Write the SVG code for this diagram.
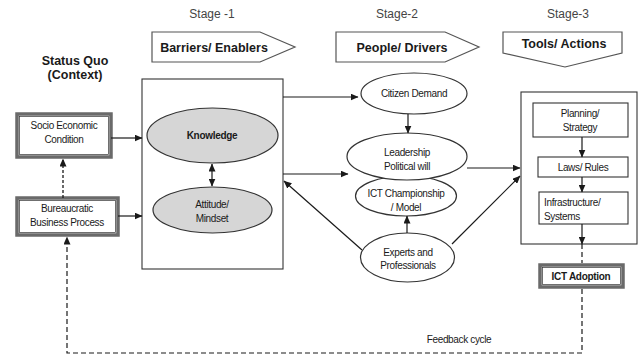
<svg xmlns="http://www.w3.org/2000/svg" width="641" height="358" viewBox="0 0 641 358">
<defs>
<marker id="ah" markerUnits="userSpaceOnUse" markerWidth="8" markerHeight="7" refX="7.5" refY="3.5" orient="auto">
<path d="M0,0 L8,3.5 L0,7 z" fill="#1a1a1a"/>
</marker>
<marker id="ahs" markerUnits="userSpaceOnUse" markerWidth="8" markerHeight="7" refX="0.5" refY="3.5" orient="auto">
<path d="M8,0 L0,3.5 L8,7 z" fill="#1a1a1a"/>
</marker>
</defs>
<style>
text{font-family:"Liberation Sans",Arial,sans-serif;fill:#1a1a1a;text-anchor:middle}
.stage{font-size:12px;fill:#444}
.hdr{font-size:12.5px;font-weight:bold}
.n{font-size:10px;letter-spacing:-0.35px}
.b{font-size:10px;font-weight:bold;letter-spacing:-0.3px}
.shape{fill:#fff;stroke:#555;stroke-width:1.2}
.box{fill:#fff;stroke:#333;stroke-width:1.1}
.dbl{fill:#fff;stroke:#6a6a6a;stroke-width:3.5}
.inner{fill:none;stroke:#333;stroke-width:0.7}
.ell{fill:#fff;stroke:#333;stroke-width:1.2}
.gell{fill:#d6d6d6;stroke:#333;stroke-width:1.2}
.c{fill:none;stroke:#1a1a1a;stroke-width:1.2}
.d{fill:none;stroke:#1a1a1a;stroke-width:1.2;stroke-dasharray:5,3}
.dot{fill:none;stroke:#1a1a1a;stroke-width:1.3;stroke-dasharray:3,2}
</style>

<g id="headers">
<text class="stage" x="212" y="18">Stage -1</text>
<text class="stage" x="397" y="18">Stage-2</text>
<text class="stage" x="568" y="18">Stage-3</text>
<text class="hdr" x="75" y="65">Status Quo</text>
<text class="hdr" x="75" y="79">(Context)</text>
</g>

<g id="barriers-enablers">
<polygon class="shape" points="152,32 260,32 295,47 260,62 152,62"/>
<text class="hdr" x="214" y="52">Barriers/ Enablers</text>
</g>
<g id="people-drivers">
<polygon class="shape" points="336,32 445,32 479,47 445,62 336,62"/>
<text class="hdr" x="402" y="52">People/ Drivers</text>
</g>
<g id="tools-actions">
<polygon class="shape" points="503,32 622,32 622,53 565,67 503,53"/>
<text class="hdr" x="564" y="48">Tools/ Actions</text>
</g>

<g id="socio-economic">
<rect class="dbl" x="17" y="114" width="94" height="43"/>
<rect class="inner" x="19.5" y="116.5" width="89" height="38"/>
<text class="n" x="64" y="129">Socio Economic</text>
<text class="n" x="64" y="143">Condition</text>
</g>
<g id="bureaucratic">
<rect class="dbl" x="17" y="198" width="101" height="37"/>
<rect class="inner" x="19.5" y="200.5" width="96" height="32"/>
<text class="n" x="67" y="212">Bureaucratic</text>
<text class="n" x="67" y="226">Business Process</text>
</g>

<g id="stage1-box">
<rect class="box" x="142" y="79" width="141" height="190"/>
</g>
<g id="knowledge">
<ellipse class="gell" cx="212.5" cy="135.5" rx="65.5" ry="27.5"/>
<text class="b" x="212" y="139">Knowledge</text>
</g>
<g id="attitude">
<ellipse class="gell" cx="212.5" cy="210" rx="59.5" ry="23"/>
<text class="n" x="212" y="208">Attitude/</text>
<text class="n" x="212" y="222">Mindset</text>
</g>

<g id="citizen-demand">
<ellipse class="ell" cx="414" cy="93.5" rx="53" ry="20.5"/>
<text class="n" x="414" y="97">Citizen Demand</text>
</g>
<g id="ict-championship">
<ellipse class="ell" cx="406" cy="196" rx="50.5" ry="20"/>
<text class="n" x="406" y="197">ICT Championship</text>
<text class="n" x="406" y="211">/ Model</text>
</g>
<g id="leadership">
<ellipse class="ell" cx="407" cy="156.5" rx="60" ry="23.5"/>
<text class="n" x="407" y="156">Leadership</text>
<text class="n" x="407" y="170">Political will</text>
</g>
<g id="experts">
<ellipse class="ell" cx="407.5" cy="257.5" rx="47" ry="24.5"/>
<text class="n" x="408" y="256">Experts and</text>
<text class="n" x="408" y="269">Professionals</text>
</g>

<g id="stage3-box">
<rect class="box" x="521" y="92" width="116" height="152"/>
</g>
<g id="planning">
<rect class="box" x="533" y="103" width="95" height="34"/>
<text class="n" x="580" y="117">Planning/</text>
<text class="n" x="580" y="131">Strategy</text>
</g>
<g id="laws">
<rect class="box" x="538" y="157" width="90" height="20"/>
<text class="n" x="583" y="171">Laws/ Rules</text>
</g>
<g id="infrastructure">
<rect class="box" x="539" y="192" width="89" height="32"/>
<text class="n" x="544" y="206" style="text-anchor:start">Infrastructure/</text>
<text class="n" x="544" y="220" style="text-anchor:start">Systems</text>
</g>
<g id="ict-adoption">
<rect class="dbl" x="540" y="265" width="83" height="22"/>
<rect class="inner" x="542.5" y="267.5" width="78" height="17"/>
<text class="b" x="581" y="280">ICT Adoption</text>
</g>

<text class="n" x="459" y="343">Feedback cycle</text>

<g id="connectors">
<line class="c" x1="111" y1="138" x2="142" y2="138" marker-end="url(#ah)"/>
<line class="c" x1="118" y1="216" x2="142" y2="216" marker-end="url(#ah)"/>
<line class="dot" x1="63" y1="198" x2="63" y2="159" marker-end="url(#ah)"/>
<line class="c" x1="212" y1="164" x2="212" y2="186" marker-start="url(#ahs)" marker-end="url(#ah)"/>
<line class="c" x1="283" y1="97" x2="358" y2="97" marker-end="url(#ah)"/>
<line class="c" x1="408" y1="114" x2="408" y2="133" marker-end="url(#ah)"/>
<line class="c" x1="283" y1="174" x2="348" y2="174" marker-end="url(#ah)"/>
<line class="c" x1="362" y1="250" x2="284" y2="181" marker-end="url(#ah)"/>
<line class="c" x1="407" y1="233" x2="407" y2="216" marker-end="url(#ah)"/>
<line class="c" x1="467" y1="168" x2="520" y2="168" marker-end="url(#ah)"/>
<line class="c" x1="452" y1="244" x2="520" y2="176" marker-end="url(#ah)"/>
<line class="c" x1="582" y1="137" x2="582" y2="157" marker-end="url(#ah)"/>
<line class="c" x1="582" y1="177" x2="582" y2="192" marker-end="url(#ah)"/>
<line class="c" x1="582" y1="224" x2="582" y2="244" marker-end="url(#ah)"/>
<line class="d" x1="582" y1="244" x2="582" y2="263"/>
<polyline class="d" points="582,289 582,353 67,353 67,237" marker-end="url(#ah)"/>
</g>
</svg>
